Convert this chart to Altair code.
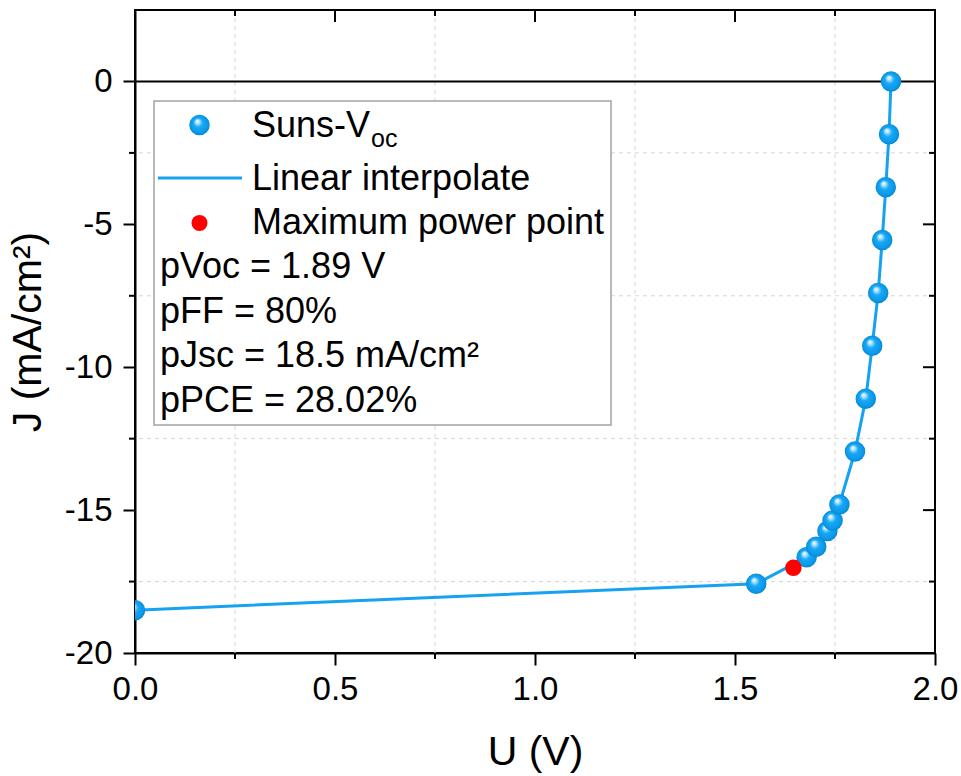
import altair as alt
import pandas as pd

# Suns-Voc pseudo J-V curve (voltage in V, current density in mA/cm²)
u_suns = [0.0, 1.553, 1.679, 1.703, 1.731, 1.744, 1.761, 1.800,
          1.827, 1.843, 1.858, 1.868, 1.877, 1.885, 1.890]
j_suns = [-18.50, -17.58, -16.65, -16.28, -15.73, -15.36, -14.80, -12.95,
          -11.10, -9.25, -7.40, -5.55, -3.70, -1.85, 0.0]

# Maximum power point
u_mpp = [1.646]
j_mpp = [-17.02]

# Axis ticks: labelled majors, unlabelled minors (minors also carry the grid)
x_major = [0.0, 0.5, 1.0, 1.5, 2.0]
y_major = [-20.0, -15.0, -10.0, -5.0, 0.0]
x_minor = [0.25, 0.75, 1.25, 1.75]
y_minor = [-17.5, -12.5, -7.5, -2.5]
x_major_inner = [0.5, 1.0, 1.5]
y_major_inner = [-15.0, -10.0, -5.0]

legend_labels = ["Suns-V", "oc", "Linear interpolate", "Maximum power point"]
param_lines = ["pVoc = 1.89 V", "pFF = 80%", "pJsc = 18.5 mA/cm²", "pPCE = 28.02%"]

W, H = 800, 643
FONT = "Liberation Sans"
BLUE = "#16a2f0"
GRID = "#d6d6d6"

curve = pd.DataFrame({"U": u_suns, "J": j_suns})
mpp = pd.DataFrame({"U": u_mpp, "J": j_mpp})

xs = alt.Scale(domain=[0, 2], nice=False, zero=False)
ys = alt.Scale(domain=[-20, 2.5], nice=False, zero=False)

ball = {
    "gradient": "radial",
    "x1": 0.38, "y1": 0.3, "r1": 0.0,
    "x2": 0.5, "y2": 0.5, "r2": 0.5,
    "stops": [
        {"offset": 0.0, "color": "#ffffff"},
        {"offset": 0.18, "color": "#b8e6ff"},
        {"offset": 0.45, "color": "#18a8f5"},
        {"offset": 0.85, "color": "#0a98e8"},
        {"offset": 1.0, "color": "#0586d0"},
    ],
}

common_axis = dict(
    grid=False, tickSize=12,
    domainColor="black", domainWidth=2, tickColor="black", tickWidth=2,
    labelFont=FONT, labelFontSize=33, labelColor="black",
    labelOverlap=False, labelFlush=False, labelBound=False,
    titleFont=FONT, titleFontSize=41, titleFontWeight="normal", titleColor="black",
)
x_axis = alt.Axis(values=x_major, title="U (V)", format=".1f",
                  labelPadding=8, titlePadding=26, **common_axis)
y_axis = alt.Axis(values=y_major, title="J (mA/cm²)",
                  labelExpr="'' + datum.value",
                  labelPadding=11, titlePadding=15, **common_axis)

# dashed grid at the minor positions
vgrid = alt.Chart(pd.DataFrame({"U": x_minor})).mark_rule(
    color=GRID, strokeWidth=1, strokeDash=[4, 4]
).encode(x=alt.X("U:Q", scale=xs))
hgrid = alt.Chart(pd.DataFrame({"J": y_minor})).mark_rule(
    color=GRID, strokeWidth=1, strokeDash=[4, 4]
).encode(y=alt.Y("J:Q", scale=ys))

line = alt.Chart(curve).mark_line(color=BLUE, strokeWidth=3, clip=True).encode(
    x=alt.X("U:Q", scale=xs, axis=x_axis),
    y=alt.Y("J:Q", scale=ys, axis=y_axis),
)

zero_line = alt.Chart(pd.DataFrame({"J": [0.0]})).mark_rule(color="black", strokeWidth=2).encode(
    y=alt.Y("J:Q", scale=ys),
)

points = alt.Chart(curve).mark_point(
    shape="circle", filled=True, fill=ball, size=420, opacity=1, strokeWidth=0, clip=True
).encode(
    x=alt.X("U:Q", scale=xs),
    y=alt.Y("J:Q", scale=ys),
)

mpp_point = alt.Chart(mpp).mark_circle(color="#ff0000", size=270, opacity=1).encode(
    x=alt.X("U:Q", scale=xs),
    y=alt.Y("J:Q", scale=ys),
)


def xticks(vals, y0, y1):
    return alt.Chart(pd.DataFrame({"U": vals})).mark_rule(color="black", strokeWidth=2).encode(
        x=alt.X("U:Q", scale=xs), y=alt.value(y0), y2=alt.value(y1)
    )


def yticks(vals, x0, x1):
    return alt.Chart(pd.DataFrame({"J": vals})).mark_rule(color="black", strokeWidth=2).encode(
        y=alt.Y("J:Q", scale=ys), x=alt.value(x0), x2=alt.value(x1)
    )


tick_marks = [
    xticks(x_minor, H, H + 6),            # bottom minor, outward
    yticks(y_minor, -6, 0),               # left minor, outward
    xticks(x_major_inner, 0, 12),         # top, inward
    xticks(x_minor, 0, 6),
    yticks(y_major_inner, W - 12, W),     # right, inward
    yticks(y_minor, W - 6, W),
]

# legend box
one = pd.DataFrame({"k": [0]})
box = alt.Chart(one).mark_rect(fill="white", stroke="#a3a3a3", strokeWidth=1.5).encode(
    x=alt.value(19), x2=alt.value(476), y=alt.value(91), y2=alt.value(415)
)
leg_ball = alt.Chart(one).mark_point(
    shape="circle", filled=True, fill=ball, size=420, opacity=1, strokeWidth=0
).encode(x=alt.value(64.5), y=alt.value(115))
leg_line = alt.Chart(one).mark_rule(color=BLUE, strokeWidth=3).encode(
    x=alt.value(23), x2=alt.value(107), y=alt.value(168)
)
leg_red = alt.Chart(one).mark_circle(color="#ff0000", size=256, opacity=1).encode(
    x=alt.value(64.5), y=alt.value(213)
)


def label(text, x, y, size=36):
    return alt.Chart(pd.DataFrame({"t": [text]})).mark_text(
        font=FONT, fontSize=size, color="black", align="left", baseline="alphabetic"
    ).encode(x=alt.value(x), y=alt.value(y), text="t:N")


texts = [
    label(legend_labels[0], 117, 127),
    label(legend_labels[1], 236, 137, size=25),
    label(legend_labels[2], 117, 180),
    label(legend_labels[3], 117, 224),
]
for i, s in enumerate(param_lines):
    texts.append(label(s, 25, 268 + 44.7 * i))

chart = alt.layer(
    vgrid, hgrid, line, zero_line, points, mpp_point, *tick_marks,
    box, leg_ball, leg_line, leg_red, *texts,
).properties(
    width=W, height=H,
    padding={"left": 135, "top": 10, "right": 26, "bottom": 123},
    autosize=alt.AutoSizeParams(type="none"),
    background="white",
).configure_axis(grid=False).configure_view(stroke="black", strokeWidth=2)

chart.save("out.html", embed_options={"renderer": "svg", "actions": False})
